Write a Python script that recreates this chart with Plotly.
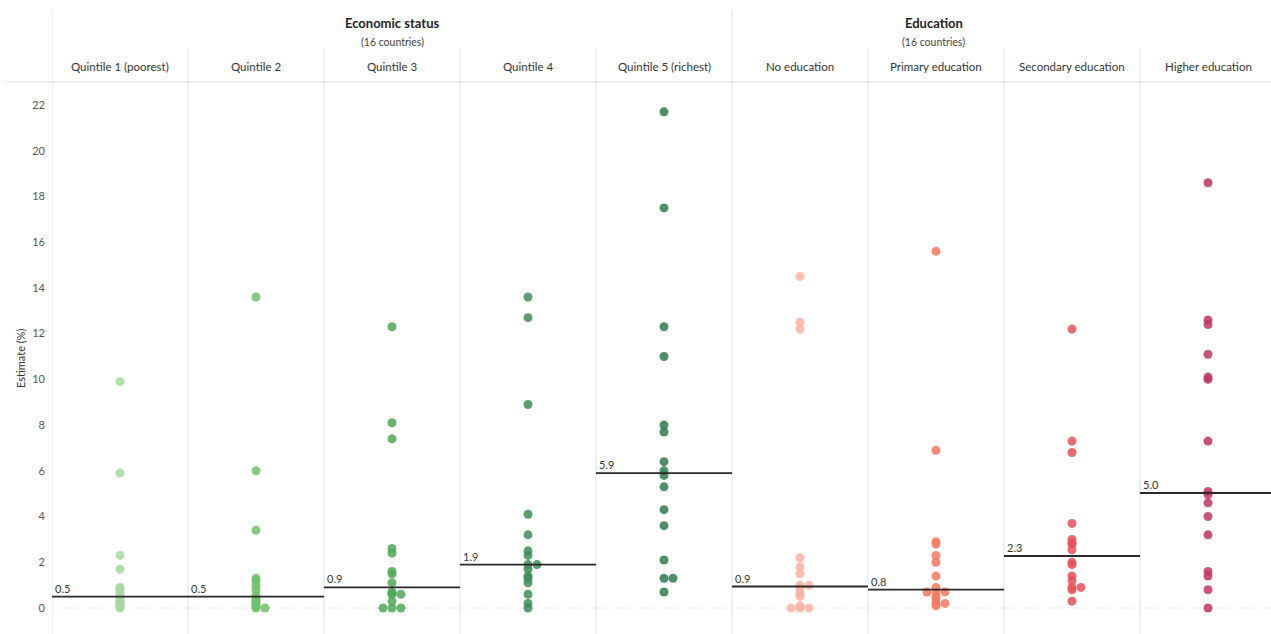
import plotly.graph_objects as go
import numpy as np

categories = ["Quintile 1 (poorest)", "Quintile 2", "Quintile 3", "Quintile 4", "Quintile 5 (richest)",
              "No education", "Primary education", "Secondary education", "Higher education"]
groups = ["Economic status", "Education"]
group_notes = ["(16 countries)", "(16 countries)"]

q1 = [9.9, 5.9, 2.3, 1.7, 0.9, 0.8, 0.7, 0.55, 0.45, 0.35, 0.3, 0.2, 0.15, 0.1, 0.05, 0.0]
q2 = [13.6, 6.0, 3.4, 1.3, 1.2, 1.0, 0.8, 0.55, 0.45, 0.35, 0.25, 0.2, 0.1, 0.05, 0.0, 0.0]
q3 = [12.3, 8.1, 7.4, 2.6, 2.4, 1.6, 1.5, 1.1, 0.7, 0.65, 0.6, 0.6, 0.3, 0.0, 0.0, 0.0]
q4 = [13.6, 12.7, 8.9, 4.1, 3.2, 2.5, 2.3, 1.9, 1.9, 1.7, 1.4, 1.3, 1.1, 0.6, 0.2, 0.0]
q5 = [21.7, 17.5, 12.3, 11.0, 8.0, 7.7, 6.4, 6.0, 5.8, 5.3, 4.3, 3.6, 2.1, 1.3, 1.3, 0.7]
no_edu = [14.5, 12.5, 12.2, 2.2, 1.8, 1.5, 1.0, 1.0, 0.88, 0.7, 0.6, 0.5, 0.1, 0.0, 0.0, 0.0]
primary = [15.6, 6.9, 2.9, 2.8, 2.3, 2.0, 1.4, 0.9, 0.7, 0.7, 0.7, 0.5, 0.4, 0.2, 0.2, 0.1]
secondary = [12.2, 7.3, 6.8, 3.7, 3.0, 2.85, 2.8, 2.55, 2.0, 1.9, 1.4, 1.2, 0.9, 0.9, 0.8, 0.3]
higher = [18.6, 12.6, 12.4, 11.1, 10.1, 10.0, 7.3, 5.1, 4.96, 4.6, 4.0, 3.2, 1.6, 1.4, 0.8, 0.0]

series = [q1, q2, q3, q4, q5, no_edu, primary, secondary, higher]
colors = ["#a6d99d", "#6fc16a", "#50a958", "#3d8d58", "#2f7a4d",
          "#fcb3a3", "#f47a5f", "#e5505a", "#c03560"]
y_ticks = [0, 2, 4, 6, 8, 10, 12, 14, 16, 18, 20, 22]

W, H = 1271, 634
x_left_px = 52
col_px = 136.0
plot_top_px = 83
y0_px, y22_px = 608, 105
px_per_unit = (y0_px - y22_px) / 22.0
y_range = [-(H - y0_px) / px_per_unit, (y0_px - plot_top_px) / px_per_unit]
x_max = -0.5 + (W - x_left_px) / col_px


def swarm(vals, step_px=9.0, min_sep_px=0.8):
    order = np.argsort(vals, kind="stable")
    placed = []
    offs = np.zeros(len(vals))
    cands = [0, 1, -1, 2, -2, 3, -3]
    for idx in order:
        v = vals[idx]
        for c in cands:
            ok = True
            for (pv, pc) in placed:
                if pc == c and abs(pv - v) * px_per_unit < min_sep_px:
                    ok = False
                    break
            if ok:
                offs[idx] = c * step_px / col_px
                placed.append((v, c))
                break
    return offs


fig = go.Figure()
font_family = "Lato, 'Open Sans', sans-serif"

for i, (vals, col) in enumerate(zip(series, colors)):
    vals = np.array(vals, dtype=float)
    xs = i + swarm(vals)
    fig.add_trace(go.Scatter(
        x=xs, y=vals, mode="markers",
        marker=dict(size=9, color=col, opacity=0.85, line=dict(width=0)),
        hoverinfo="y", showlegend=False))

shapes = []
annotations = []

# zero line (dotted)
shapes.append(dict(type="line", xref="x", yref="y", x0=-0.5, x1=x_max, y0=0, y1=0,
                   line=dict(color="#e4e4e4", width=1, dash="dot"), layer="below"))

# header horizontal separator
hy = 1 - 82 / H
shapes.append(dict(type="line", xref="paper", yref="paper", x0=6 / W, x1=1, y0=hy, y1=hy,
                   line=dict(color="#ececec", width=2)))

# column dividers
for k in range(1, 9):
    top = 1 - (10 / H if k == 5 else 48 / H)
    shapes.append(dict(type="line", xref="x", yref="paper", x0=k - 0.5, x1=k - 0.5, y0=0, y1=top,
                       line=dict(color="#e0e0e0", width=1)))
shapes.append(dict(type="line", xref="x", yref="paper", x0=-0.5, x1=-0.5, y0=0, y1=1 - 10 / H,
                   line=dict(color="#e0e0e0", width=1)))

# medians
for i, vals in enumerate(series):
    m = float(np.median(vals))
    shapes.append(dict(type="line", xref="x", yref="y", x0=i - 0.5, x1=min(i + 0.5, x_max), y0=m, y1=m,
                       line=dict(color="#2a2a2a", width=1.8)))
    annotations.append(dict(x=i - 0.5, y=m, xref="x", yref="y", text=f"{m:.1f}",
                            showarrow=False, xanchor="left", yanchor="bottom", xshift=1, yshift=0,
                            font=dict(size=11, color="#333333", family=font_family)))

# column headers
for i, c in enumerate(categories):
    annotations.append(dict(x=i, y=1 - 66 / H, xref="x", yref="paper", text=c, showarrow=False,
                            xanchor="center", yanchor="middle",
                            font=dict(size=11.5, color="#333333", family=font_family)))

# group headers
group_centers = [2.0, 6.0 + (x_max - 8.5) / 2]
for g, note, gc in zip(groups, group_notes, group_centers):
    annotations.append(dict(x=gc, y=1 - 23 / H, xref="x", yref="paper", text=f"<b>{g}</b>",
                            showarrow=False, xanchor="center", yanchor="middle",
                            font=dict(size=13, color="#222222", family=font_family)))
    annotations.append(dict(x=gc, y=1 - 42 / H, xref="x", yref="paper", text=note,
                            showarrow=False, xanchor="center", yanchor="middle",
                            font=dict(size=10.5, color="#444444", family=font_family)))

# y axis title
annotations.append(dict(x=20 / W, y=1 - 358 / H, xref="paper", yref="paper", text="Estimate (%)",
                        showarrow=False, textangle=-90, xanchor="center", yanchor="middle",
                        font=dict(size=11, color="#333333", family=font_family)))

fig.update_layout(
    width=W, height=H,
    margin=dict(l=0, r=0, t=0, b=0),
    paper_bgcolor="white", plot_bgcolor="white",
    shapes=shapes, annotations=annotations,
    font=dict(family=font_family),
    xaxis=dict(domain=[x_left_px / W, 1], range=[-0.5, x_max], showgrid=False, zeroline=False,
               showticklabels=False, showline=False, fixedrange=True),
    yaxis=dict(domain=[0, 1 - plot_top_px / H], range=y_range, showgrid=False, zeroline=False,
               tickvals=y_ticks, ticks="", ticklabelstandoff=6,
               tickfont=dict(size=11, color="#555555", family=font_family),
               showline=False, fixedrange=True),
)

fig.write_html("out.html", config={"displayModeBar": False},
               post_script="document.body.style.margin='0';document.body.style.overflow='hidden';")
